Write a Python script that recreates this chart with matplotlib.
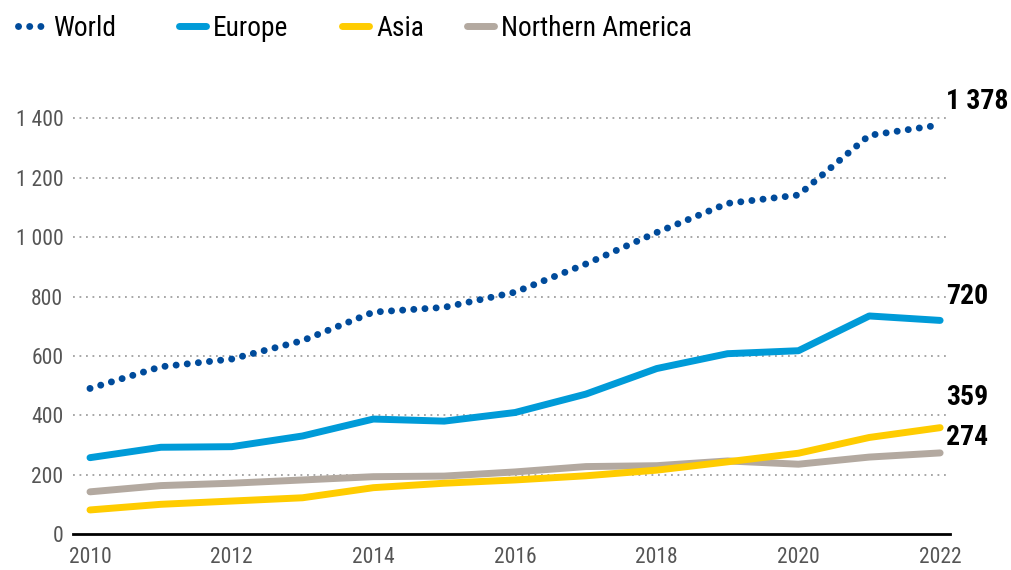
import matplotlib
matplotlib.use("Agg")
import matplotlib.pyplot as plt
from matplotlib.lines import Line2D

# data
years = [2010, 2011, 2012, 2013, 2014, 2015, 2016, 2017, 2018, 2019, 2020, 2021, 2022]
world = [491, 564, 590, 652, 748, 764, 815, 910, 1016, 1114, 1142, 1343, 1378]
europe = [258, 293, 295, 331, 388, 381, 410, 472, 558, 608, 618, 735, 720]
asia = [82, 101, 112, 123, 157, 172, 183, 197, 216, 244, 273, 326, 359]
n_america = [143, 164, 172, 183, 194, 196, 210, 228, 231, 247, 236, 260, 274]

series_names = ["World", "Europe", "Asia", "Northern America"]
end_labels = ["1 378", "720", "359", "274"]
yticks = [0, 200, 400, 600, 800, 1000, 1200, 1400]
ytick_labels = ["0", "200", "400", "600", "800", "1 000", "1 200", "1 400"]
xticks = [2010, 2012, 2014, 2016, 2018, 2020, 2022]

plt.rcParams["font.family"] = ["Roboto Condensed", "DejaVu Sans"]

c_world = "#004b9b"
c_europe = "#009bd8"
c_asia = "#ffcc00"
c_na = "#b3a9a0"
dots = (0, (0.01, 1.6))

W, H = 1011, 570
fig = plt.figure(figsize=(W / 100, H / 100), dpi=100)
ax = fig.add_axes([0.0722, 0.0626, 0.8675, 0.7818])

ax.plot(years, n_america, color=c_na, lw=5, solid_capstyle="round", solid_joinstyle="round")
ax.plot(years, asia, color=c_asia, lw=5, solid_capstyle="round", solid_joinstyle="round")
ax.plot(years, europe, color=c_europe, lw=5, solid_capstyle="round", solid_joinstyle="round")
ax.plot(years, world, color=c_world, lw=5, linestyle=dots, dash_capstyle="round")

ax.set_xlim(2009.76, 2022.14)
ax.set_ylim(0, 1500)
for s in ["top", "right", "left"]:
    ax.spines[s].set_visible(False)
ax.spines["bottom"].set_linewidth(2)
ax.spines["bottom"].set_color("black")

ax.set_yticks(yticks)
ax.set_yticklabels(ytick_labels)
ax.set_xticks(xticks)
ax.set_xticklabels([str(x) for x in xticks])
ax.tick_params(axis="both", length=0, labelsize=15.5, colors="#555555")
ax.tick_params(axis="y", pad=7)
ax.tick_params(axis="x", pad=9)

for v in yticks[1:]:
    ax.axhline(v, color="#a0a0a0", lw=1.3, linestyle=(0, (1, 2.6)), zorder=0)

# end-of-line value labels
ends = [world[-1], europe[-1], asia[-1], n_america[-1]]
offsets = [17, 17, 22, 11]
for lab, v, off in zip(end_labels, ends, offsets):
    ax.annotate(lab, xy=(years[-1], v), xytext=(4, off), textcoords="offset points",
                ha="left", va="center", fontsize=20, fontweight="bold", color="black",
                annotation_clip=False)

# legend across the top, drawn by hand to match the spacing
leg_y = 1 - 26 / H
txt_y = 1 - 28 / H
leg_items = [
    (series_names[0], c_world, dots, 18, 46, 53),
    (series_names[1], c_europe, "-", 179, 206, 213),
    (series_names[2], c_asia, "-", 342, 369, 376),
    (series_names[3], c_na, "-", 467, 494, 501),
]
for name, col, ls, x0, x1, xt in leg_items:
    fig.add_artist(Line2D([x0 / W, x1 / W], [leg_y, leg_y], transform=fig.transFigure,
                          color=col, lw=5, linestyle=ls, dash_capstyle="round",
                          solid_capstyle="round"))
    fig.text(xt / W, txt_y, name, ha="left", va="center", fontsize=19.7, color="black")

fig.savefig("out.png", dpi=100)
